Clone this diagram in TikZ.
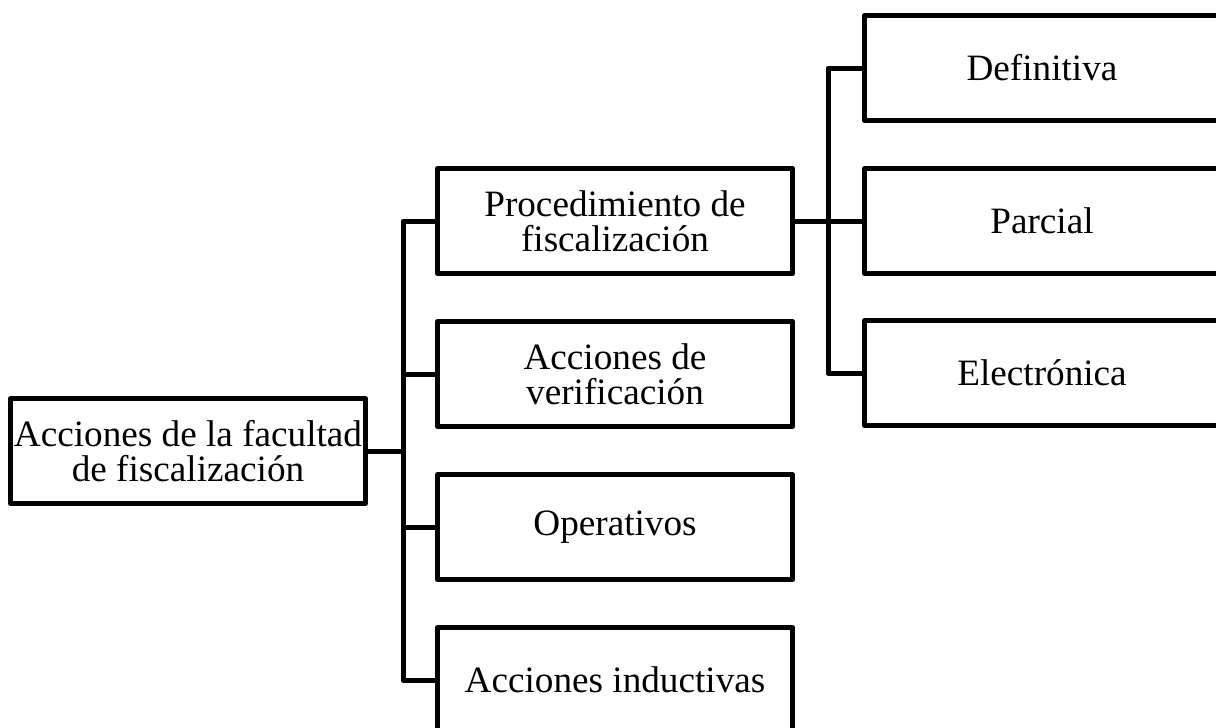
\documentclass[tikz,border=0pt]{standalone}
\usepackage{fontspec}
\setmainfont{Liberation Serif}

\begin{document}
\begin{tikzpicture}[x=0.5pt, y=-0.5pt,
  box/.style={draw, line width=2.5pt, line join=round, minimum width=177.5pt, minimum height=52.5pt,
    inner sep=1pt, align=center, font=\fontsize{18.6}{17.5}\selectfont},
  link/.style={line width=2.5pt, line join=round}]
  \useasboundingbox (0,0) rectangle (1216,728);
  \clip (0,0) rectangle (1216,728);
  % Define the boxes
  \node[box] (root) at (188,451) {Acciones de la facultad\\de fiscalización};
  \node[box] (proc) at (615,221) {Procedimiento de\\fiscalización};
  \node[box] (verif) at (615,374) {Acciones de\\verificación};
  \node[box] (oper) at (615,527) {Operativos};
  \node[box] (induc) at (615,680) {Acciones inductivas};
  \node[box] (defin) at (1042,68) {Definitiva};
  \node[box] (parc) at (1042,221) {Parcial};
  \node[box] (elec) at (1042,373) {Electrónica};
  % Junctions of the connectors
  \coordinate (trunkA) at (403,451);
  \coordinate (trunkB) at (828,221);
  % Draw the connectors
  \draw[link] (root.east) -- (trunkA);
  \foreach \n in {proc,verif,oper,induc}
    \draw[link] (trunkA) |- (\n.west);
  \draw[link] (proc.east) -- (trunkB);
  \foreach \n in {defin,parc,elec}
    \draw[link] (trunkB) |- (\n.west);
\end{tikzpicture}
\end{document}
